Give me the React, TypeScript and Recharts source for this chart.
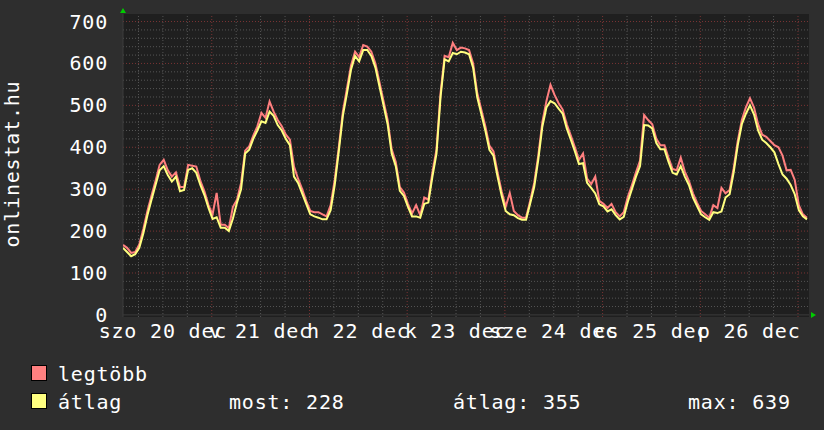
import React from 'react';
import { LineChart, Line, XAxis, YAxis, CartesianGrid, ReferenceLine, ReferenceDot } from 'recharts';

// one sample per hour, hour 0 = left edge of the plot
const atlag = [
  160, 150, 140, 145, 160, 195, 238, 275, 310, 345,
  355, 334, 318, 330, 295, 298, 346, 350, 339, 310,
  286, 255, 229, 233, 208, 208, 200, 230, 268, 300,
  385, 394, 420, 440, 462, 458, 485, 475, 453, 440,
  420, 405, 330, 315, 290, 265, 240, 235, 232, 228,
  228, 250, 310, 390, 475, 528, 585, 618, 605, 632,
  632, 618, 590, 545, 500, 455, 385, 355, 296, 284,
  258, 235, 235, 232, 265, 268, 330, 385, 520, 610,
  605, 625, 622, 628, 626, 622, 590, 520, 480, 440,
  394, 380, 330, 285, 248, 240, 238, 231, 227, 227,
  265, 305, 370, 449, 495, 510, 505, 492, 480, 445,
  418, 390, 360, 362, 315, 303, 290, 264, 259, 247,
  252, 238, 228, 234, 270, 300, 330, 355, 453, 452,
  445, 410, 395, 395, 365, 339, 335, 355, 330, 310,
  280, 260, 240, 233, 227, 245, 243, 247, 280, 288,
  340, 405, 455, 480, 500, 478, 440, 418, 410, 400,
  388, 360, 335, 325, 310, 288, 250, 235, 228,
];

const legtobb = [
  167, 160, 148, 150, 168, 205, 248, 285, 320, 358,
  370, 345, 330, 340, 305, 305, 358, 356, 354, 320,
  295, 262, 240, 291, 215, 215, 207, 258, 275, 315,
  392, 402, 428, 450, 482, 470, 509, 485, 465, 450,
  430, 418, 354, 325, 300, 272, 248, 245, 245, 240,
  235, 262, 322, 400, 485, 540, 595, 628, 615, 644,
  640, 628, 600, 555, 510, 465, 395, 365, 305, 292,
  265, 242, 262, 238, 280, 275, 340, 395, 530, 618,
  615, 649, 632, 638, 636, 632, 600, 530, 490, 450,
  404, 390, 340, 295, 258, 291, 248, 238, 232, 232,
  272, 315, 380, 460, 510, 549, 525, 505, 490, 455,
  428, 400, 370, 385, 325, 312, 330, 272, 265, 255,
  265, 245, 235, 245, 282, 310, 340, 368, 477, 465,
  455, 420, 405, 405, 375, 348, 345, 375, 342, 320,
  290, 268, 248, 240, 232, 262, 255, 303, 290, 298,
  350, 415, 465, 495, 517, 495, 455, 430, 425, 415,
  405, 400, 380, 345, 346, 322, 262, 240, 232,
];

const dayLabels = ['szo 20 dec', 'v 21 dec', 'h 22 dec', 'k 23 dec', 'sze 24 dec', 'cs 25 dec', 'p 26 dec'];
const dayNoons = [9.8, 33.8, 57.8, 81.8, 105.8, 129.8, 153.8];
const midnights = [21.8, 45.8, 69.8, 93.8, 117.8, 141.8, 165.8];
const quarterHours = [3.8, 9.8, 15.8, 27.8, 33.8, 39.8, 51.8, 57.8, 63.8, 75.8, 81.8, 87.8, 99.8, 105.8, 111.8, 123.8, 129.8, 135.8, 147.8, 153.8, 159.8];
const yLabels = [0, 100, 200, 300, 400, 500, 600, 700];
const yMinor = [20, 40, 60, 80, 120, 140, 160, 180, 220, 240, 260, 280, 320, 340, 360, 380, 420, 440, 460, 480, 520, 540, 560, 580, 620, 640, 660, 680];

const legendRows = [
  { name: 'legtöbb', color: '#ff8080' },
  { name: 'átlag', color: '#ffff80' },
];
const stats = ['most: 228', 'átlag: 355', 'max: 639'];

const data = atlag.map((v, i) => ({ t: i, atlag: v, legtobb: legtobb[i] }));

const FONT = '"DejaVu Sans Mono", monospace';
const txt = { fontFamily: FONT, fontSize: 20, letterSpacing: 0.8 };

const XTick = (props: any) => {
  const { x, y, index } = props;
  return (
    <text x={x} y={y} dy={21} textAnchor="middle" fill="#ffffff" style={txt}>
      {dayLabels[index]}
    </text>
  );
};

const YTick = (props: any) => {
  const { y, payload } = props;
  return (
    <text x={108} y={y} dy={7} textAnchor="end" fill="#ffffff" style={txt}>
      {payload.value}
    </text>
  );
};

const UpArrow = (props: any) => {
  const { cx, cy } = props;
  return <polygon points={`${cx - 3},${cy - 1} ${cx + 3},${cy - 1} ${cx},${cy - 6}`} fill="#00cc00" />;
};
const RightArrow = (props: any) => {
  const { cx, cy } = props;
  return <polygon points={`${cx + 2},${cy - 3} ${cx + 2},${cy + 3} ${cx + 7},${cy}`} fill="#00cc00" />;
};

export default function App() {
  return (
    <div style={{ position: 'fixed', left: 0, top: 0, width: 824, height: 430, background: '#2e2e2e' }}>
      <LineChart width={824} height={430} data={data} margin={{ top: 14, right: 15, left: 0, bottom: 0 }}>
        <CartesianGrid fill="#1f1f1f" horizontal={false} vertical={false} stroke="none" />
        <XAxis
          type="number"
          dataKey="t"
          domain={[0, 168.5]}
          ticks={dayNoons}
          tick={<XTick />}
          tickLine={false}
          axisLine={false}
          tickSize={0}
          tickMargin={0}
          height={113}
          allowDataOverflow
        />
        <YAxis
          type="number"
          domain={[-5, 718]}
          ticks={yLabels}
          tick={<YTick />}
          tickLine={false}
          axisLine={false}
          width={123}
          allowDataOverflow
        />
        {yMinor.map((v) => (
          <ReferenceLine key={'ym' + v} y={v} stroke="#555555" strokeDasharray="1 2" />
        ))}
        {quarterHours.map((v) => (
          <ReferenceLine key={'xm' + v} x={v} stroke="#555555" strokeDasharray="1 2" />
        ))}
        {yLabels.slice(1).map((v) => (
          <ReferenceLine key={'yM' + v} y={v} stroke="#7a3434" strokeDasharray="1 2" />
        ))}
        {midnights.map((v) => (
          <ReferenceLine key={'xM' + v} x={v} stroke="#7a3434" strokeDasharray="1 2" />
        ))}
        <ReferenceLine x={0} stroke="#3c3c3c" />
        <ReferenceLine y={0} stroke="#3c3c3c" />
        <Line type="linear" dataKey="legtobb" stroke="#ff7f7f" strokeWidth={2} dot={false} isAnimationActive={false} />
        <Line type="linear" dataKey="atlag" stroke="#ffff7f" strokeWidth={2} dot={false} isAnimationActive={false} />
        <ReferenceDot x={0} y={718} r={0} shape={<UpArrow />} ifOverflow="visible" />
        <ReferenceDot x={168.5} y={0} r={0} shape={<RightArrow />} ifOverflow="visible" />
      </LineChart>
      <svg width={824} height={430} style={{ position: 'absolute', left: 0, top: 0, pointerEvents: 'none' }}>
        <text x={19} y={164} transform="rotate(-90 19 164)" textAnchor="middle" fill="#ffffff" style={txt}>
          onlinestat.hu
        </text>
        {legendRows.map((r, i) => (
          <g key={r.name}>
            <rect x={31.5} y={365.5 + i * 28} width={15} height={15} fill={r.color} stroke="#000000" strokeWidth={1} />
            <text x={58} y={381 + i * 28} fill="#ffffff" style={txt}>
              {r.name}
            </text>
          </g>
        ))}
        {stats.map((s, i) => (
          <text key={s} x={[229, 453, 688][i]} y={409} fill="#ffffff" style={txt}>
            {s}
          </text>
        ))}
      </svg>
    </div>
  );
}
